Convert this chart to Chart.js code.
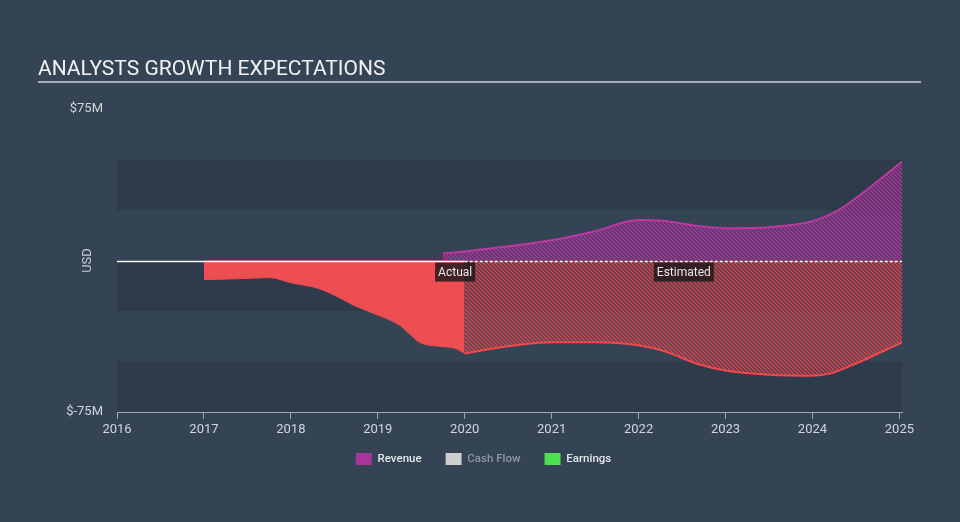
<!DOCTYPE html>
<html>
<head>
<meta charset="utf-8">
<script src="https://cdn.jsdelivr.net/npm/chart.js@4.4.1/dist/chart.umd.min.js"></script>
<style>
  html, body { margin: 0; background: #344454; }
  #wrap { position: relative; width: 960px; height: 522px; }
  #title {
    position: absolute; left: 38px; top: 55px; width: 883px;
    font: 21px Roboto, sans-serif; line-height: 26px; color: #f0f2f4;
    border-bottom: 2px solid #a3adb7;
  }
  canvas { position: absolute; left: 0; top: 0; }
</style>
</head>
<body>
<div id="wrap">
  <canvas id="chart" width="960" height="522"></canvas>
  <div id="title">ANALYSTS GROWTH EXPECTATIONS</div>
</div>
<script>
// valores en millones de USD, x = año decimal
const yearTicks = [2016, 2017, 2018, 2019, 2020, 2021, 2022, 2023, 2024, 2025];
const actualEnd = 2020;

const revenueX = [2019.75, 2020, 2020.5, 2021, 2021.5, 2022, 2022.3, 2022.7, 2023, 2023.5, 2024, 2024.3, 2024.7, 2025.03];
const revenueY = [3.5, 4.5, 7, 10, 14.5, 20, 19.5, 17, 16, 16.5, 19.5, 25, 37.5, 49];

const earningsActX = [2017, 2017.41, 2017.76, 2018, 2018.33, 2018.56, 2018.74, 2019, 2019.25, 2019.37, 2019.48, 2019.71, 2019.89, 2020];
const earningsActY = [-9.5, -9, -8.5, -11, -14, -18.5, -22.5, -27, -32, -36.5, -40.5, -42.5, -43.5, -46];

const earningsEstX = [2020, 2020.5, 2021, 2021.5, 2022, 2022.3, 2022.7, 2023, 2023.5, 2024, 2024.2, 2024.5, 2025.03];
const earningsEstY = [-46, -42.5, -40.5, -40.5, -42, -45, -51.5, -54.5, -56.5, -57, -56, -51, -40.5];

const legendNames = ['Revenue', 'Cash Flow', 'Earnings'];
const legendColors = ['#a9359c', '#cfcfcf', '#4fe04f'];

const BG_DARK = '#2e3b4a';
const FONT = 'Roboto, sans-serif';

function zip(xs, ys) {
  return xs.map((x, i) => ({ x, y: ys[i] }));
}

function hatch(base, line) {
  const c = document.createElement('canvas');
  c.width = 4; c.height = 4;
  const g = c.getContext('2d');
  g.fillStyle = base;
  g.fillRect(0, 0, 4, 4);
  g.strokeStyle = line;
  g.lineWidth = 1.3;
  g.beginPath();
  g.moveTo(-1, -1); g.lineTo(5, 5);
  g.moveTo(-1, 3); g.lineTo(1, 5);
  g.moveTo(3, -1); g.lineTo(5, 1);
  g.stroke();
  return g.createPattern(c, 'repeat');
}

const ctx = document.getElementById('chart').getContext('2d');
const purpleHatch = hatch('rgba(120,50,125,0.45)', '#a8379c');
const redHatch = hatch('rgba(150,60,70,0.4)', '#d24a52');

// franjas horizontales, etiquetas y línea de cero
const decor = {
  id: 'decor',
  afterLayout(chart) {
    // subir un poco la leyenda, que el padding de Chart.js deja muy abajo
    if (chart.legend) {
      chart.legend.top -= 13;
      chart.legend.bottom -= 13;
    }
  },
  beforeDatasetsDraw(chart) {
    const { ctx, chartArea: a, scales: { y } } = chart;
    ctx.save();
    ctx.fillStyle = BG_DARK;
    [[50, 25], [0, -25], [-50, -75]].forEach(([hi, lo]) => {
      const t = y.getPixelForValue(hi), b = y.getPixelForValue(lo);
      ctx.fillRect(a.left, t, a.right - a.left, b - t);
    });
    ctx.restore();
  },
  afterDatasetsDraw(chart) {
    const { ctx, chartArea: a, scales: { x, y } } = chart;
    const y0 = Math.round(y.getPixelForValue(0)) + 0.5;
    const xs = x.getPixelForValue(actualEnd);
    ctx.save();
    ctx.strokeStyle = '#ffffff';
    ctx.lineWidth = 1.3;
    ctx.beginPath(); ctx.moveTo(a.left, y0); ctx.lineTo(xs, y0); ctx.stroke();
    ctx.setLineDash([3, 2]);
    ctx.beginPath(); ctx.moveTo(xs, y0); ctx.lineTo(a.right, y0); ctx.stroke();
    ctx.setLineDash([]);

    ctx.font = '12px ' + FONT;
    ctx.textAlign = 'center';
    ctx.textBaseline = 'middle';
    [['Actual', 2019.89], ['Estimated', 2022.52]].forEach(([txt, xv]) => {
      const cx = x.getPixelForValue(xv), cy = y.getPixelForValue(-5.75);
      const w = ctx.measureText(txt).width + 6;
      ctx.fillStyle = 'rgba(28,24,26,0.82)';
      ctx.fillRect(cx - w / 2, cy - 9.5, w, 19);
      ctx.fillStyle = '#e8e8e8';
      ctx.fillText(txt, cx, cy + 1);
    });

    ctx.translate(a.left - 29, y.getPixelForValue(0));
    ctx.rotate(-Math.PI / 2);
    ctx.font = '13px ' + FONT;
    ctx.fillStyle = '#c8cfd6';
    ctx.fillText('USD', 0, 0);
    ctx.restore();
  }
};

new Chart(ctx, {
  type: 'line',
  data: {
    datasets: [
      {
        label: 'Revenue',
        data: zip(revenueX, revenueY),
        borderColor: '#bb3aa2',
        backgroundColor: purpleHatch,
        borderWidth: 2,
        fill: 'origin',
        pointRadius: 0,
        cubicInterpolationMode: 'monotone',
      },
      {
        label: 'Earnings',
        data: zip(earningsActX, earningsActY),
        borderColor: '#ee4a4f',
        backgroundColor: '#ec4e52',
        borderWidth: 1,
        fill: 'origin',
        pointRadius: 0,
        cubicInterpolationMode: 'monotone',
      },
      {
        label: 'Earnings est.',
        data: zip(earningsEstX, earningsEstY),
        borderColor: '#f2474c',
        backgroundColor: redHatch,
        borderWidth: 2,
        fill: 'origin',
        pointRadius: 0,
        cubicInterpolationMode: 'monotone',
      },
    ]
  },
  options: {
    responsive: false,
    animation: false,
    layout: { padding: { top: 109, left: 65, right: 58, bottom: 34 } },
    scales: {
      x: {
        type: 'linear',
        min: 2016,
        max: 2025.03,
        afterBuildTicks: s => { s.ticks = yearTicks.map(v => ({ value: v })); },
        afterFit: s => { s.height = 30; },
        border: { display: true, color: '#9ea8b2', width: 1 },
        grid: { drawOnChartArea: false, drawTicks: true, tickLength: 7, color: '#9ea8b2' },
        ticks: { color: '#d0d6dc', font: { family: FONT, size: 13 }, padding: 3, callback: v => String(v) },
      },
      y: {
        min: -75,
        max: 75,
        afterBuildTicks: s => { s.ticks = [{ value: -75 }, { value: 75 }]; },
        afterFit: s => { s.width = 52; },
        border: { display: false },
        grid: { display: false, drawTicks: false },
        ticks: { color: '#d0d6dc', font: { family: FONT, size: 13 }, padding: 14, callback: v => '$' + v + 'M' },
      },
    },
    plugins: {
      tooltip: { enabled: false },
      legend: {
        position: 'bottom',
        onClick: null,
        labels: {
          boxWidth: 16,
          boxHeight: 12,
          padding: 24,
          font: { family: FONT, size: 11.5, weight: '500' },
          generateLabels: () => legendNames.map((n, i) => ({
            text: n,
            fillStyle: legendColors[i],
            strokeStyle: legendColors[i],
            lineWidth: 0,
            hidden: false,
            fontColor: i === 1 ? '#8e98a2' : '#e4e7ea',
          })),
        },
      },
    },
  },
  plugins: [decor],
});
</script>
</body>
</html>
